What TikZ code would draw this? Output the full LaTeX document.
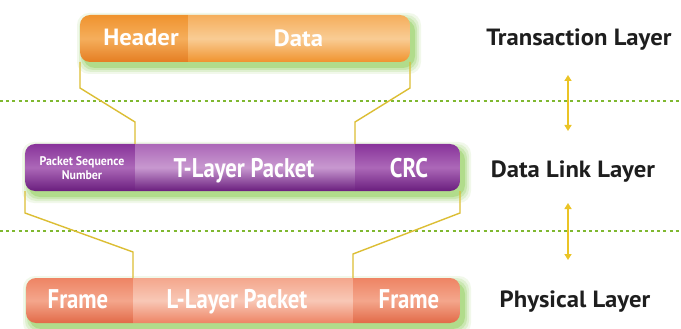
\documentclass[tikz,border=0pt]{standalone}
\usepackage{fontspec}
\setmainfont{PT Sans}
\newfontfamily\barfont{PT Sans}[FakeStretch=0.84]
\newfontfamily\lblfont{PT Sans}[FakeStretch=1.05]
\newfontfamily\psnfont{PT Sans}[FakeStretch=0.95]
\usetikzlibrary{arrows.meta}
\definecolor{orA}{HTML}{F0932E}
\definecolor{orB}{HTML}{F5AE5C}
\definecolor{orC}{HTML}{E57E22}
\definecolor{orL}{HTML}{F9CC94}
\definecolor{puA}{HTML}{88349A}
\definecolor{puB}{HTML}{AC68B8}
\definecolor{puC}{HTML}{6A1E7E}
\definecolor{puL}{HTML}{C898D0}
\definecolor{saA}{HTML}{EE8464}
\definecolor{saB}{HTML}{F4A68C}
\definecolor{saC}{HTML}{E26A48}
\definecolor{saL}{HTML}{F8C8B6}
\definecolor{glowg}{HTML}{78C436}
\definecolor{dotg}{HTML}{7FB830}
\definecolor{linky}{HTML}{DCBE34}
\definecolor{arry}{HTML}{EBC425}
\definecolor{lbl}{HTML}{1E1E1E}
\begin{document}
\begin{tikzpicture}[x=1pt,y=-1pt,
  seg/.style={draw=none, inner sep=0, outer sep=0, rectangle},
  orEnd/.style={seg, top color=orA, bottom color=orC, middle color=orB},
  orMid/.style={seg, top color=orB, bottom color=orA, middle color=orL},
  puEnd/.style={seg, top color=puA, bottom color=puC, middle color=puB},
  puMid/.style={seg, top color=puB, bottom color=puC, middle color=puL},
  saEnd/.style={seg, top color=saA, bottom color=saC, middle color=saB},
  saMid/.style={seg, top color=saB, bottom color=saA, middle color=saL},
  wtext/.style={text=white, inner sep=0, anchor=base, font=\barfont\bfseries\fontsize{27}{27}\selectfont},
  wtexttop/.style={text=white, inner sep=0, anchor=base, font=\lblfont\bfseries\fontsize{23.5}{24}\selectfont},
  layerlbl/.style={text=lbl, inner sep=0, anchor=base, font=\lblfont\bfseries\fontsize{23.5}{24}\selectfont},
  conn/.style={draw=linky, line width=1.4pt},
  dotline/.style={draw=dotg, line width=2pt, dash pattern=on 3pt off 3.2pt},
  dblarrow/.style={draw=arry, line width=2pt, {Triangle[width=7pt,length=6pt]}-{Triangle[width=7pt,length=6pt]}}
]
\useasboundingbox[fill=white] (0,0) rectangle (681,329);

% dotted separators
\draw[dotline] (0,101) -- (681,101);
\draw[dotline] (0,231) -- (681,231);

% green glows
\foreach \b/\o in {7/0.1,5/0.14,3/0.2,1/0.3}{
  \fill[glowg, opacity=\o, rounded corners=12] (84-\b,20-\b) rectangle (414+\b,67+\b);
  \fill[glowg, opacity=\o, rounded corners=12] (29-\b,149-\b) rectangle (464+\b,196+\b);
  \fill[glowg, opacity=\o, rounded corners=12] (30-\b,283-\b) rectangle (464+\b,328+\b);
}

% ---- Transaction layer bar
\begin{scope}
  \clip[rounded corners=10] (80,15) rectangle (410,62);
  \node[orEnd, minimum width=108, minimum height=47] (hdr) at (134,38.5) {};
  \node[orMid, minimum width=222, minimum height=47] (data) at (299,38.5) {};
\end{scope}
\node[wtexttop] (thdr) at (141,45.5) {Header};
\node[wtexttop] (tdata) at (298.5,46.5) {Data};

% ---- Data link layer bar
\begin{scope}
  \clip[rounded corners=10] (25,144) rectangle (460,191);
  \node[puEnd, minimum width=110, minimum height=47] (psn) at (80,167.5) {};
  \node[puMid, minimum width=220, minimum height=47] (tlp) at (245,167.5) {};
  \node[puEnd, minimum width=105, minimum height=47] (crc) at (407.5,167.5) {};
\end{scope}
\node[text=white, inner sep=0, align=center, font=\psnfont\bfseries\fontsize{12.5}{13.5}\selectfont] (tpsn) at (82,168) {Packet Sequence\\Number};
\node[wtext] (ttlp) at (244,177) {T-Layer Packet};
\node[wtext] (tcrc) at (409,177) {CRC};

% ---- Physical layer bar
\begin{scope}
  \clip[rounded corners=10] (26,278) rectangle (460,323);
  \node[saEnd, minimum width=107, minimum height=45] (fr1) at (79.5,300.5) {};
  \node[saMid, minimum width=220, minimum height=45] (llp) at (243,300.5) {};
  \node[saEnd, minimum width=107, minimum height=45] (fr2) at (406.5,300.5) {};
\end{scope}
\node[wtext] (tfr1) at (78,308) {Frame};
\node[wtext] (tllp) at (237,308) {L-Layer Packet};
\node[wtext] (tfr2) at (409,308) {Frame};

% ---- connectors
\draw[conn] (hdr.south west) -- ++(0,26) -- ([yshift=22pt]tlp.north west) -- (tlp.north west);
\draw[conn] (data.south east) -- ++(0,26) -- ([yshift=22pt]tlp.north east) -- (tlp.north east);
\draw[conn] (psn.south west) -- ++(0,22) -- ([yshift=26pt]llp.north west) -- (llp.north west);
\draw[conn] (crc.south east) -- ++(0,22) -- ([yshift=24pt]llp.north east) -- (llp.north east);

% ---- layer labels
\node[layerlbl] (ltl) at (579,46) {Transaction Layer};
\node[layerlbl] (ldl) at (573,177) {Data Link Layer};
\node[layerlbl] (lpl) at (575,307) {Physical Layer};

% ---- arrows
\coordinate (a1t) at (568,75);
\coordinate (a1b) at (568,131);
\coordinate (a2t) at (568,203);
\coordinate (a2b) at (568,260);
\draw[dblarrow] (a1t) -- (a1b);
\draw[dblarrow] (a2t) -- (a2b);
\end{tikzpicture}
\end{document}
